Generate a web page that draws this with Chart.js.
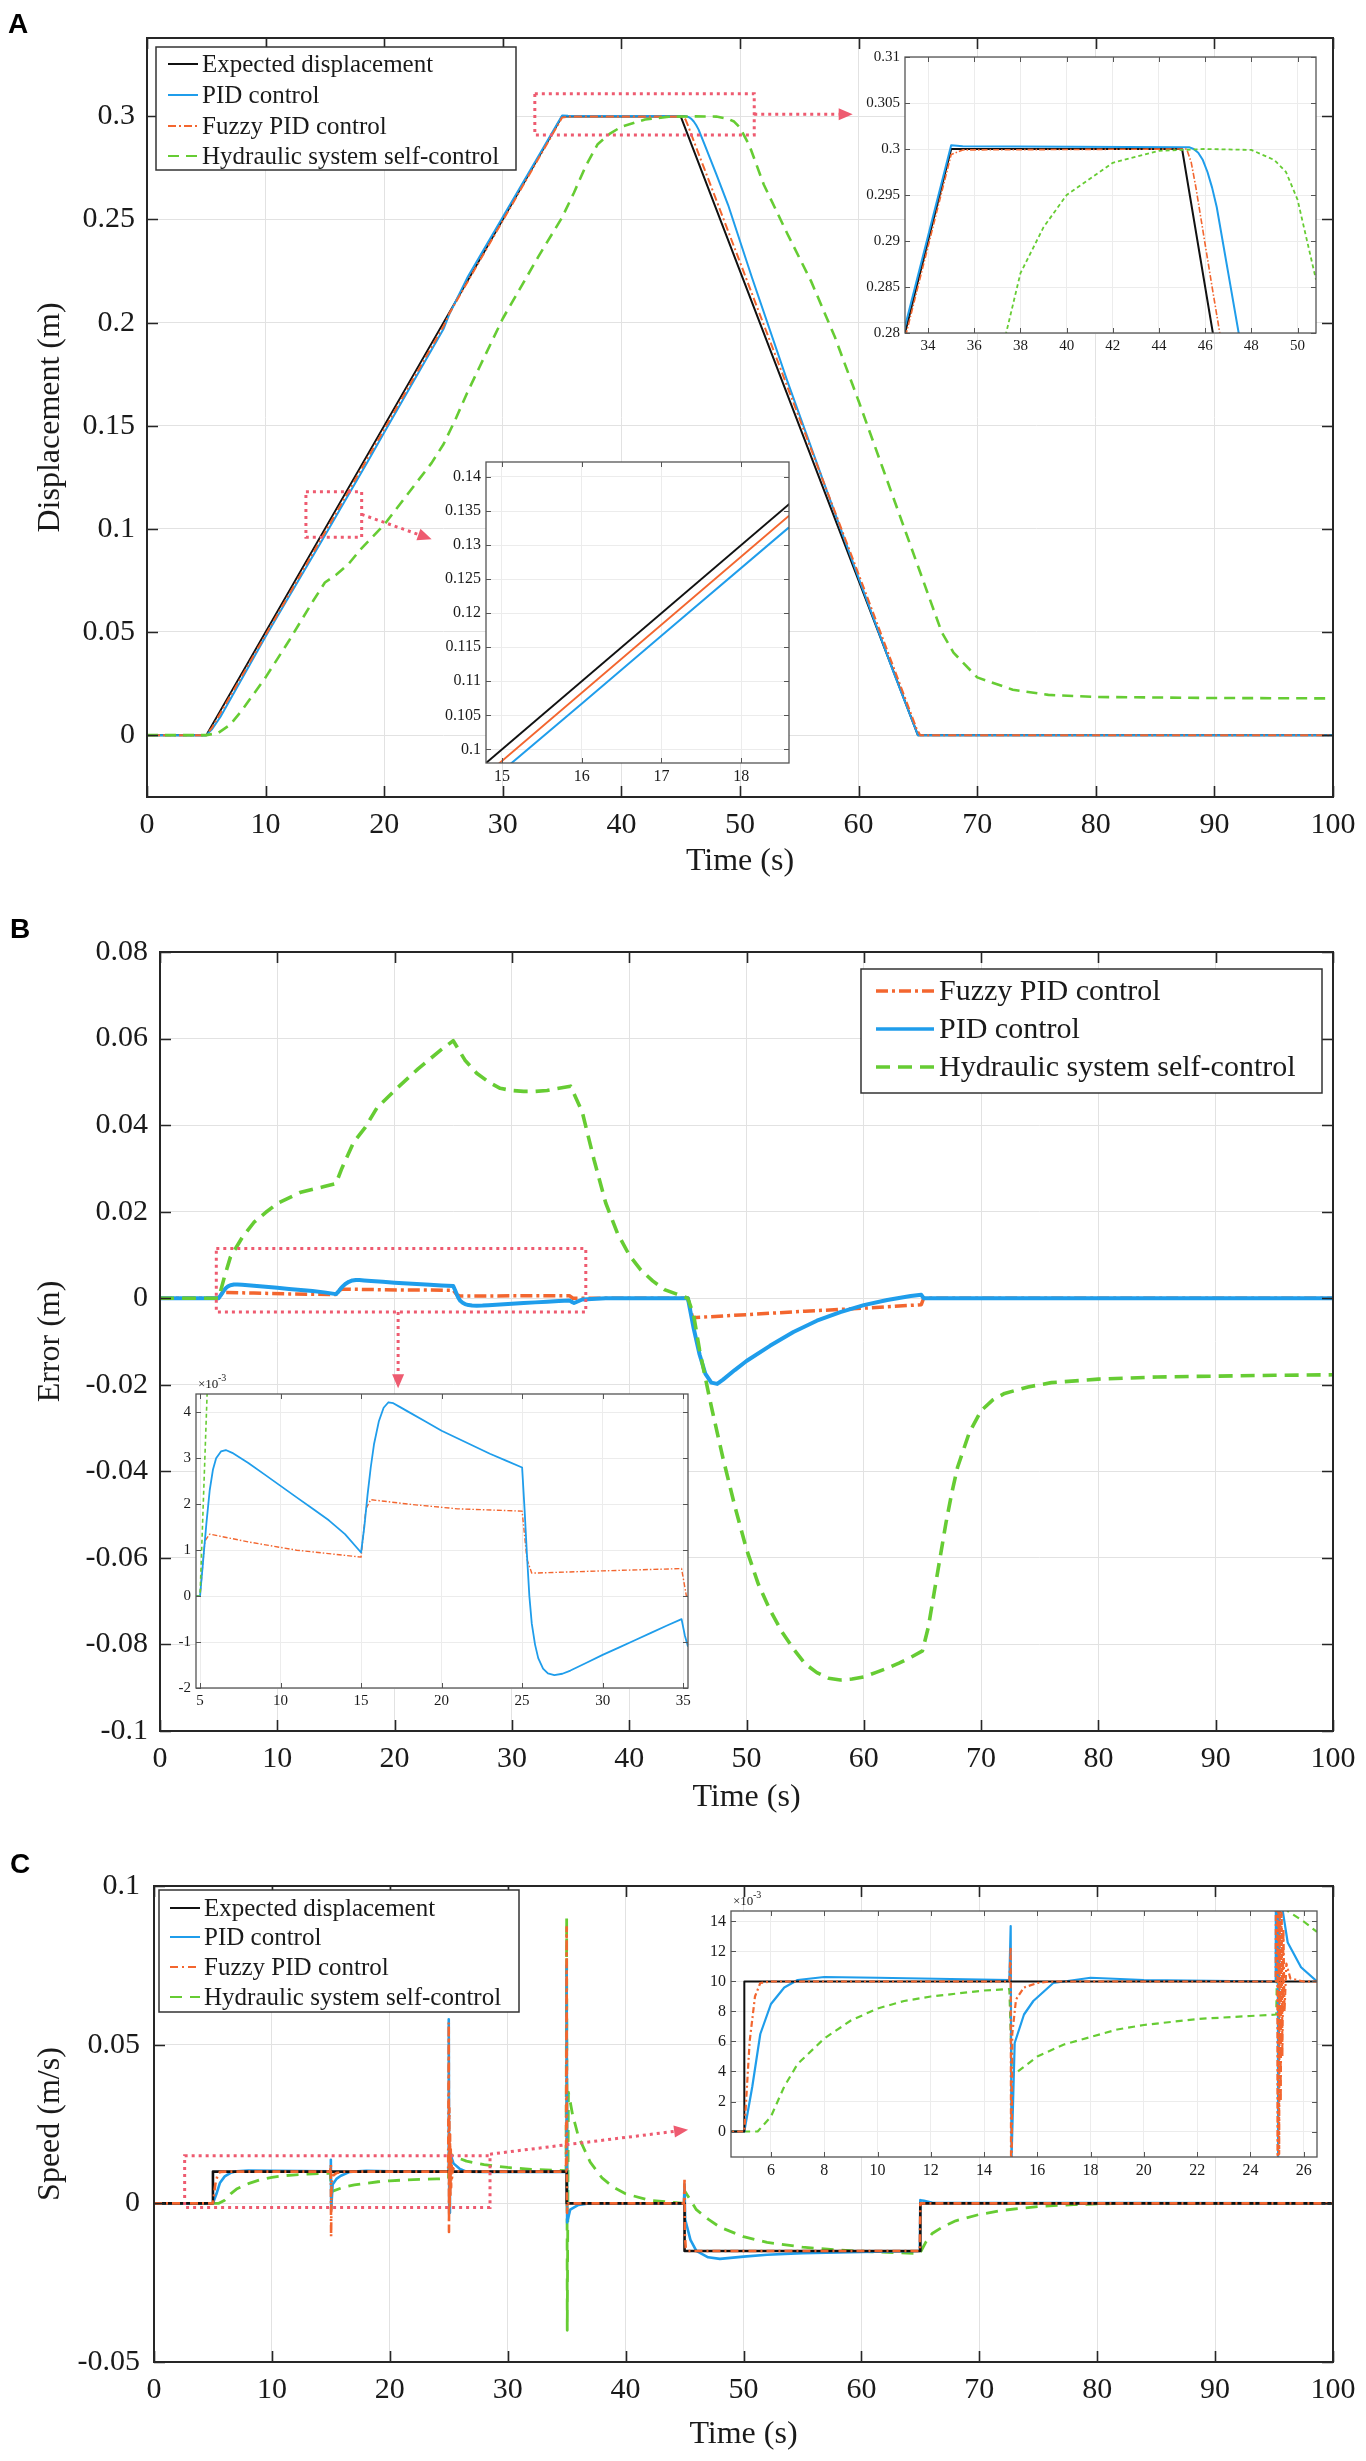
<!DOCTYPE html>
<html>
<head>
<meta charset="utf-8">
<script src="https://cdn.jsdelivr.net/npm/chart.js@4.4.1/dist/chart.umd.min.js"></script>
<style>
html,body{margin:0;padding:0;background:#fff;}
body{width:1366px;height:2461px;position:relative;overflow:hidden;}
canvas{position:absolute;display:block;}
</style>
</head>
<body>
<canvas id="cA" width="1366" height="900" style="left:0;top:0"></canvas>
<canvas id="cB" width="1366" height="920" style="left:0;top:900px"></canvas>
<canvas id="cC" width="1366" height="641" style="left:0;top:1820px"></canvas>
<canvas id="iA1" width="495" height="325" style="left:845px;top:40px"></canvas>
<canvas id="iA2" width="380" height="345" style="left:430px;top:445px"></canvas>
<canvas id="iB" width="545" height="350" style="left:165px;top:1368px"></canvas>
<canvas id="iC" width="650" height="297" style="left:690px;top:1888px"></canvas>
<script>
// ---------------- DATA ----------------
const seriesNames = ['Expected displacement', 'PID control', 'Fuzzy PID control', 'Hydraulic system self-control'];

// Panel A: displacement (m) vs time (s)
const tA_exp = [0, 5, 35, 45, 65, 100];
const yA_exp = [0, 0, 0.3, 0.3, 0, 0];
const tA_pid = [0, 5, 5.5, 6.2, 8, 10, 12, 15, 16, 17, 18.6, 20, 25, 25.5, 27, 30, 33, 35, 35.5, 45, 45.3, 45.5, 45.7, 45.9, 46.1, 46.3, 46.5, 47, 47.5, 48, 49, 51, 54, 57, 60, 63, 65, 100];
const yA_pid = [0, 0, 0.003, 0.0089, 0.0273, 0.0478, 0.0675, 0.0968, 0.1067, 0.1167, 0.1326, 0.1467, 0.1969, 0.2042, 0.2217, 0.2512, 0.2807, 0.3004, 0.3003, 0.3002, 0.3002, 0.3, 0.2996, 0.2988, 0.2975, 0.2958, 0.2937, 0.2865, 0.2793, 0.272, 0.257, 0.222, 0.1715, 0.1235, 0.0762, 0.0297, 0, 0];
const tA_fuz = [0, 5, 5.5, 15, 18.6, 25, 25.5, 35, 35.5, 45.2, 45.4, 45.6, 46.3, 47, 50, 55, 60, 64.9, 65.2, 100];
const yA_fuz = [0, 0, 0.0038, 0.0983, 0.1343, 0.1982, 0.2045, 0.2994, 0.2999, 0.3, 0.2985, 0.2958, 0.285, 0.2745, 0.2293, 0.1537, 0.0781, 0.003, 0, 0];
const tA_hyd = [0, 5, 6, 7, 8, 10, 12, 14, 15, 16, 17, 18, 20, 22, 24, 25, 26, 27, 28, 30, 33, 35, 36, 37, 38, 39, 40, 42, 44, 46, 48, 49, 49.5, 50, 50.8, 52, 54, 56, 58, 60, 62, 64, 65, 66, 67, 68, 70, 73, 76, 80, 90, 100];
const yA_hyd = [0, 0, 0.001, 0.005, 0.012, 0.028, 0.046, 0.065, 0.074, 0.078, 0.083, 0.09, 0.102, 0.117, 0.132, 0.141, 0.153, 0.166, 0.178, 0.202, 0.232, 0.251, 0.263, 0.276, 0.2865, 0.2915, 0.295, 0.2985, 0.2998, 0.3, 0.2999, 0.2988, 0.2975, 0.2945, 0.2858, 0.267, 0.243, 0.22, 0.193, 0.162, 0.13, 0.098, 0.082, 0.066, 0.05, 0.04, 0.028, 0.022, 0.0195, 0.0185, 0.018, 0.0178];

// Panel B: error (m) vs time (s)
const tB_fuz = [0, 5, 5.3, 5.6, 8, 11, 15, 15.3, 15.6, 18, 21, 25, 25.3, 25.6, 30, 34.9, 35.2, 45, 45.4, 50, 55, 60, 64.9, 65.1, 100];
const yB_fuz = [0, 0, 0.0012, 0.00135, 0.00118, 0.001, 0.00085, 0.0019, 0.0021, 0.002, 0.0019, 0.00185, 0.0008, 0.0005, 0.00055, 0.0006, 0, 0, -0.0045, -0.0038, -0.003, -0.0023, -0.0015, 0, 0];
const tB_pid = [0, 5, 5.2, 5.4, 5.6, 5.8, 6, 6.3, 6.6, 7, 8, 9, 10, 11, 12, 13, 14, 15, 15.2, 15.4, 15.6, 15.8, 16.1, 16.4, 16.7, 17, 17.4, 18, 19, 20, 21.5, 23, 24, 25, 25.15, 25.3, 25.45, 25.6, 25.8, 26, 26.3, 26.6, 27, 27.5, 28, 29, 30, 31, 32, 33, 34, 34.9, 35.1, 35.3, 36, 38, 45, 45.5, 46, 46.5, 47, 47.5, 48, 49, 50, 52, 54, 56, 58, 60, 62, 64, 64.9, 65.1, 100];
const yB_pid = [0, 0, 0.0008, 0.0016, 0.0023, 0.00275, 0.003, 0.00315, 0.00318, 0.00312, 0.0029, 0.00265, 0.0024, 0.00215, 0.0019, 0.00165, 0.00135, 0.00095, 0.0015, 0.0022, 0.0028, 0.0033, 0.0038, 0.0041, 0.00422, 0.0042, 0.00412, 0.004, 0.0038, 0.0036, 0.00335, 0.0031, 0.00295, 0.0028, 0.0019, 0.0009, 0, -0.0006, -0.00105, -0.00135, -0.00158, -0.00168, -0.00172, -0.00169, -0.00162, -0.00145, -0.00128, -0.00112, -0.00096, -0.0008, -0.00064, -0.0005, -0.00085, -0.0011, -0.0003, 0, 0, -0.007, -0.013, -0.0175, -0.0195, -0.0198, -0.0188, -0.0166, -0.0145, -0.011, -0.0078, -0.0052, -0.0032, -0.0016, -0.0004, 0.0005, 0.0008, 0, 0];
const tB_hyd = [0, 5, 5.5, 6, 7, 8, 9, 10, 12, 14, 15, 15.5, 16.5, 17.5, 18.5, 20, 22, 24, 25, 26, 27, 28, 29, 30, 31, 32, 33, 34, 35, 36, 37, 38, 39, 40, 41, 42, 43, 44, 45, 45.5, 46, 47, 48, 49, 50, 51, 52, 53, 54, 55, 56, 57, 58, 59, 60, 61, 62, 63, 64, 65, 65.5, 66, 66.5, 67, 67.5, 68, 69, 70, 71, 72, 74, 76, 80, 85, 90, 95, 100];
const yB_hyd = [0, 0, 0.005, 0.0095, 0.014, 0.0175, 0.0198, 0.0219, 0.0245, 0.0258, 0.0265, 0.03, 0.036, 0.0395, 0.044, 0.048, 0.053, 0.0575, 0.0595, 0.055, 0.052, 0.05, 0.0485, 0.048, 0.0478, 0.0478, 0.048, 0.0485, 0.049, 0.043, 0.032, 0.022, 0.015, 0.01, 0.0065, 0.004, 0.002, 0.001, 0, -0.004, -0.012, -0.025, -0.037, -0.048, -0.058, -0.066, -0.072, -0.077, -0.081, -0.0845, -0.0865, -0.0878, -0.0882, -0.088, -0.0875, -0.0865, -0.0855, -0.0843, -0.083, -0.0815, -0.076, -0.068, -0.06, -0.052, -0.045, -0.039, -0.031, -0.026, -0.0235, -0.022, -0.0205, -0.0195, -0.0187, -0.0182, -0.018, -0.0178, -0.0177];

// Panel C: speed (m/s) vs time (s)
const tC_exp = [0, 5, 5, 35, 35, 45, 45, 65, 65, 100];
const yC_exp = [0, 0, 0.01, 0.01, 0, 0, -0.015, -0.015, 0, 0];
const tC_pid = [0, 5, 5.3, 5.6, 6, 6.5, 7, 8, 10, 14.95, 15, 15.03, 15.15, 15.5, 15.85, 16.6, 18, 20, 24.95, 25, 25.04, 25.1, 25.4, 25.9, 26.5, 28, 34.95, 35, 35.04, 35.3, 36, 37, 44.95, 45, 45.05, 45.5, 46, 47, 48, 50, 52, 55, 60, 64.95, 65, 65.3, 66, 100];
const yC_pid = [0, 0, 0.003, 0.0065, 0.0085, 0.0096, 0.0101, 0.0103, 0.01025, 0.0101, 0.0137, -0.002, 0.0059, 0.0078, 0.0087, 0.0099, 0.01025, 0.0101, 0.01, 0.058, -0.003, 0.016, 0.0126, 0.01095, 0.01, 0.0099, 0.01, 0.075, -0.006, -0.002, -0.0005, 0, 0, 0.006, -0.005, -0.0115, -0.015, -0.017, -0.0175, -0.0168, -0.0162, -0.0157, -0.0153, -0.015, 0.001, 0.0008, 0.0002, 0];
const tC_fuz = [0, 5, 5.2, 5.4, 5.6, 6, 14.95, 15, 15.02, 15.06, 15.2, 15.5, 16, 16.5, 24.95, 25, 25.02, 25.05, 25.08, 25.11, 25.14, 25.17, 25.2, 25.24, 25.28, 25.35, 25.5, 26, 34.95, 35, 35.03, 35.08, 44.95, 45, 45.03, 45.1, 45.3, 64.95, 65, 65.05, 100];
const yC_fuz = [0, 0, 0.006, 0.009, 0.0099, 0.01, 0.01, 0.0123, -0.0105, 0.0065, 0.0088, 0.0096, 0.0099, 0.01, 0.01, 0.057, -0.009, 0.03, -0.0015, 0.022, 0.002, 0.017, 0.005, 0.0135, 0.008, 0.0112, 0.0102, 0.01, 0.01, 0.087, -0.003, 0, 0, 0.008, -0.01, -0.014, -0.015, -0.015, 0, 0, 0];
const tC_hyd = [0, 5, 5.5, 6, 6.5, 7, 8, 9, 10, 11, 12, 13, 14, 14.95, 15.05, 16, 17, 18, 19, 20, 22, 24, 24.97, 25.05, 25.4, 26, 26.5, 28, 30, 32, 34.95, 35, 35.05, 35.15, 35.5, 36, 37, 38, 39, 40, 42, 44.95, 45, 46, 47, 48, 50, 52, 55, 58, 61, 64.95, 65.5, 66, 67, 68, 70, 72, 75, 78, 82, 100];
const yC_hyd = [0, 0, 0, 0.001, 0.003, 0.0045, 0.0062, 0.0074, 0.0082, 0.0087, 0.009, 0.0092, 0.0094, 0.0095, 0.0037, 0.005, 0.0058, 0.0063, 0.0068, 0.0071, 0.0075, 0.0077, 0.0078, 0.016, 0.0147, 0.014, 0.0133, 0.0122, 0.0113, 0.0107, 0.0103, 0.09, -0.04, 0.035, 0.028, 0.021, 0.013, 0.008, 0.005, 0.003, 0.001, 0, 0.004, -0.002, -0.005, -0.0075, -0.0105, -0.0123, -0.0138, -0.0147, -0.0153, -0.0158, -0.012, -0.0095, -0.0072, -0.0055, -0.0035, -0.0022, -0.001, -0.0004, 0, 0];

// Tick values
const xTicksMain = [0, 10, 20, 30, 40, 50, 60, 70, 80, 90, 100];
const yTicksA = [0, 0.05, 0.1, 0.15, 0.2, 0.25, 0.3];
const yTicksB = [-0.1, -0.08, -0.06, -0.04, -0.02, 0, 0.02, 0.04, 0.06, 0.08];
const yTicksC = [-0.05, 0, 0.05, 0.1];
const xTicksA1 = [34, 36, 38, 40, 42, 44, 46, 48, 50];
const yTicksA1 = [0.28, 0.285, 0.29, 0.295, 0.3, 0.305, 0.31];
const xTicksA2 = [15, 16, 17, 18];
const yTicksA2 = [0.1, 0.105, 0.11, 0.115, 0.12, 0.125, 0.13, 0.135, 0.14];
const xTicksB1 = [5, 10, 15, 20, 25, 30, 35];
const yTicksB1 = [-0.002, -0.001, 0, 0.001, 0.002, 0.003, 0.004];
const xTicksC1 = [6, 8, 10, 12, 14, 16, 18, 20, 22, 24, 26];
const yTicksC1 = [0, 0.002, 0.004, 0.006, 0.008, 0.01, 0.012, 0.014];

// ---------------- STYLE ----------------
const SERIF = '"Liberation Serif", "Times New Roman", Times, serif';
const SANS = '"Liberation Sans", Arial, Helvetica, sans-serif';
const C_BLACK = '#111111', C_BLUE = '#1F9DEB', C_ORANGE = '#F3662F', C_GREEN = '#66CC33', C_RED = '#EE5B70';
const TXT = '#1a1a1a';

function xy(t, v) { return t.map((tt, i) => ({ x: tt, y: v[i] })); }
function line(label, t, v, color, width, dash, order) {
  return { label, data: xy(t, v), borderColor: color, backgroundColor: color, borderWidth: width,
    borderDash: dash || [], pointRadius: 0, pointHoverRadius: 0, showLine: true, tension: 0, fill: false,
    order, borderCapStyle: 'butt', borderJoinStyle: 'round' };
}
const fmt = v => String(Math.round(v * 1e6) / 1e6);
const fmtMilli = v => String(Math.round(v * 1e6) / 1e3);

// ---------------- PLUGINS ----------------
const whiteArea = {
  id: 'whiteArea',
  beforeDraw(chart, args, o) {
    if (!o || !o.on) return;
    const a = chart.chartArea, ctx = chart.ctx;
    ctx.save(); ctx.fillStyle = '#ffffff';
    ctx.fillRect(a.left, a.top, a.right - a.left, a.bottom - a.top);
    ctx.restore();
  }
};
const framePlugin = {
  id: 'frame',
  afterDatasetsDraw(chart, args, o) {
    const { ctx, chartArea: a } = chart; const x = chart.scales.x, y = chart.scales.y;
    ctx.save();
    ctx.strokeStyle = o.color; ctx.lineWidth = o.tw || 1.2; ctx.setLineDash([]);
    ctx.beginPath();
    x.ticks.forEach(t => { const p = Math.round(x.getPixelForValue(t.value)) + 0.5;
      ctx.moveTo(p, a.bottom); ctx.lineTo(p, a.bottom - o.len); ctx.moveTo(p, a.top); ctx.lineTo(p, a.top + o.len); });
    y.ticks.forEach(t => { const p = Math.round(y.getPixelForValue(t.value)) + 0.5;
      ctx.moveTo(a.left, p); ctx.lineTo(a.left + o.len, p); ctx.moveTo(a.right, p); ctx.lineTo(a.right - o.len, p); });
    ctx.stroke();
    ctx.lineWidth = o.width;
    ctx.strokeRect(a.left, a.top, a.right - a.left, a.bottom - a.top);
    ctx.restore();
  }
};
const marksPlugin = {
  id: 'zoomMarks',
  afterDatasetsDraw(chart, args, o) {
    if (!o || !o.boxes) return;
    const { ctx } = chart; const x = chart.scales.x, y = chart.scales.y;
    ctx.save();
    ctx.strokeStyle = C_RED; ctx.fillStyle = C_RED; ctx.lineWidth = 3; ctx.setLineDash([3, 4]);
    o.boxes.forEach(b => {
      const X0 = x.getPixelForValue(b[0]), X1 = x.getPixelForValue(b[1]);
      const Y0 = y.getPixelForValue(b[3]), Y1 = y.getPixelForValue(b[2]);
      ctx.strokeRect(X0, Y0, X1 - X0, Y1 - Y0);
    });
    (o.arrows || []).forEach(ar => {
      const X0 = x.getPixelForValue(ar[0]), Y0 = y.getPixelForValue(ar[1]);
      const X1 = x.getPixelForValue(ar[2]), Y1 = y.getPixelForValue(ar[3]);
      const ang = Math.atan2(Y1 - Y0, X1 - X0), hl = 14, hw = 6;
      const bx = X1 - hl * Math.cos(ang), by = Y1 - hl * Math.sin(ang);
      ctx.setLineDash([3, 4]);
      ctx.beginPath(); ctx.moveTo(X0, Y0); ctx.lineTo(bx, by); ctx.stroke();
      ctx.setLineDash([]);
      ctx.beginPath(); ctx.moveTo(X1, Y1);
      ctx.lineTo(bx + hw * Math.sin(ang), by - hw * Math.cos(ang));
      ctx.lineTo(bx - hw * Math.sin(ang), by + hw * Math.cos(ang));
      ctx.closePath(); ctx.fill();
    });
    ctx.restore();
  }
};
const legendPlugin = {
  id: 'boxLegend',
  afterDraw(chart, args, o) {
    if (!o || !o.items) return;
    const ctx = chart.ctx;
    ctx.save();
    ctx.fillStyle = '#ffffff'; ctx.fillRect(o.x0, o.y0, o.x1 - o.x0, o.y1 - o.y0);
    ctx.strokeStyle = '#333333'; ctx.lineWidth = 1.5; ctx.setLineDash([]);
    ctx.strokeRect(o.x0, o.y0, o.x1 - o.x0, o.y1 - o.y0);
    ctx.font = o.fs + 'px ' + SERIF; ctx.textBaseline = 'middle'; ctx.textAlign = 'left';
    o.items.forEach((idx, k) => {
      const d = chart.data.datasets[idx]; const yy = o.rows[k];
      ctx.strokeStyle = d.borderColor; ctx.lineWidth = o.lw || d.borderWidth; ctx.setLineDash(d.borderDash || []);
      ctx.beginPath(); ctx.moveTo(o.sx0, yy); ctx.lineTo(o.sx1, yy); ctx.stroke();
      ctx.setLineDash([]);
      ctx.fillStyle = TXT; ctx.fillText(d.label, o.tx, yy + 1);
    });
    ctx.restore();
  }
};
const textsPlugin = {
  id: 'texts',
  afterDraw(chart, args, o) {
    if (!o || !o.list) return;
    const ctx = chart.ctx;
    ctx.save();
    o.list.forEach(t => {
      ctx.font = t.font; ctx.fillStyle = t.color || TXT; ctx.textAlign = t.align || 'left'; ctx.textBaseline = t.baseline || 'alphabetic';
      ctx.fillText(t.text, t.x, t.y);
    });
    ctx.restore();
  }
};

// ---------------- CHART FACTORY ----------------
function makeChart(id, s) {
  const canvas = document.getElementById(id);
  const W = canvas.width, H = canvas.height;
  const tlh = s.titleFs * 1.2;
  const ticksCfg = (cb, fs, pad) => ({ autoSkip: false, maxRotation: 0, minRotation: 0, padding: pad, color: TXT,
    font: { family: SERIF, size: fs }, callback: cb });
  return new Chart(canvas, {
    type: 'scatter',
    data: { datasets: s.datasets },
    options: {
      responsive: false, maintainAspectRatio: false, animation: false, events: [],
      layout: { padding: { left: 0, top: s.area.t, right: W - s.area.r, bottom: 0 } },
      plugins: {
        legend: { display: false }, tooltip: { enabled: false },
        whiteArea: { on: !!s.white }, frame: s.frame, zoomMarks: s.marks || {},
        boxLegend: s.legend || {}, texts: { list: s.texts || [] }
      },
      scales: {
        x: {
          type: 'linear', position: 'bottom', min: s.x.min, max: s.x.max,
          afterBuildTicks: sc => { sc.ticks = s.x.ticks.map(v => ({ value: v })); },
          afterFit: sc => { sc.height = H - s.area.b; },
          grid: { color: s.grid, lineWidth: 1, drawTicks: false },
          border: { display: false },
          ticks: ticksCfg(s.x.cb || fmt, s.fs, s.x.pad),
          title: s.x.title ? { display: true, text: s.x.title, color: TXT, font: { family: SERIF, size: s.titleFs },
            padding: { top: 0, bottom: H - s.x.titleC - tlh / 2 } } : { display: false }
        },
        y: {
          type: 'linear', position: 'left', min: s.y.min, max: s.y.max,
          afterBuildTicks: sc => { sc.ticks = s.y.ticks.map(v => ({ value: v })); },
          afterFit: sc => { sc.width = s.area.l; },
          grid: { color: s.grid, lineWidth: 1, drawTicks: false },
          border: { display: false },
          ticks: ticksCfg(s.y.cb || fmt, s.fs, s.y.pad),
          title: s.y.title ? { display: true, text: s.y.title, color: TXT, font: { family: SERIF, size: s.titleFs },
            padding: { top: s.y.titleC - tlh / 2, bottom: 0 } } : { display: false }
        }
      }
    },
    plugins: [whiteArea, framePlugin, marksPlugin, legendPlugin, textsPlugin]
  });
}

// dataset builders (same data arrays, style per axes)
function setA(w) {
  return [
    line(seriesNames[0], tA_exp, yA_exp, C_BLACK, w.k, [], 3),
    line(seriesNames[1], tA_pid, yA_pid, C_BLUE, w.b, [], 2),
    line(seriesNames[2], tA_fuz, yA_fuz, C_ORANGE, w.o, w.od, 1),
    line(seriesNames[3], tA_hyd, yA_hyd, C_GREEN, w.g, w.gd, 0)
  ];
}
function setB(w) {
  return [
    line(seriesNames[2], tB_fuz, yB_fuz, C_ORANGE, w.o, w.od, 2),
    line(seriesNames[1], tB_pid, yB_pid, C_BLUE, w.b, [], 1),
    line(seriesNames[3], tB_hyd, yB_hyd, C_GREEN, w.g, w.gd, 0)
  ];
}
function setC(w) {
  return [
    line(seriesNames[0], tC_exp, yC_exp, C_BLACK, w.k, [], 1),
    line(seriesNames[1], tC_pid, yC_pid, C_BLUE, w.b, [], 2),
    line(seriesNames[2], tC_fuz, yC_fuz, C_ORANGE, w.o, w.od, 0),
    line(seriesNames[3], tC_hyd, yC_hyd, C_GREEN, w.g, w.gd, 3)
  ];
}

const GRID = '#e2e2e2', GRID_IN = '#ececec';
const MAINFRAME = { color: '#262626', width: 2, tw: 1.6, len: 11 };
const INFRAME = { color: '#555555', width: 1.3, tw: 1, len: 5 };
const LETTER = 'bold 28px ' + SANS;

// ---------------- PANEL A ----------------
makeChart('cA', {
  area: { l: 147, t: 38, r: 1333, b: 797 }, grid: GRID, fs: 30, titleFs: 32, frame: MAINFRAME,
  x: { min: 0, max: 100, ticks: xTicksMain, pad: 10, title: 'Time (s)', titleC: 862 },
  y: { min: -0.03, max: 0.338, ticks: yTicksA, pad: 12, title: 'Displacement (m)', titleC: 51 },
  datasets: setA({ k: 2, b: 2, o: 2, od: [8, 3, 2, 3], g: 2.6, gd: [11, 7] }),
  marks: { boxes: [[13.4, 18.1, 0.096, 0.118], [32.7, 51.2, 0.291, 0.311]],
           arrows: [[18.1, 0.107, 24.0, 0.095], [51.2, 0.301, 59.5, 0.301]] },
  legend: { items: [0, 1, 2, 3], x0: 156, y0: 47, x1: 516, y1: 170, rows: [64, 95, 126, 156], sx0: 168, sx1: 198, tx: 202, fs: 25, lw: 2 },
  texts: [{ text: 'A', x: 8, y: 33, font: LETTER, color: '#000' }]
});
makeChart('iA1', {
  white: true, area: { l: 60, t: 17, r: 471, b: 293 }, grid: GRID_IN, fs: 15, titleFs: 10, frame: INFRAME,
  x: { min: 33, max: 50.8, ticks: xTicksA1, pad: 4 },
  y: { min: 0.28, max: 0.31, ticks: yTicksA1, pad: 5 },
  datasets: setA({ k: 2, b: 2, o: 1.6, od: [6, 2, 1.5, 2], g: 1.8, gd: [4, 3] })
});
makeChart('iA2', {
  white: true, area: { l: 56, t: 17, r: 359, b: 318 }, grid: GRID_IN, fs: 16, titleFs: 10, frame: INFRAME,
  x: { min: 14.8, max: 18.6, ticks: xTicksA2, pad: 4 },
  y: { min: 0.098, max: 0.1422, ticks: yTicksA2, pad: 5 },
  datasets: setA({ k: 2, b: 2, o: 1.8, od: [], g: 1.8, gd: [4, 3] })
});

// ---------------- PANEL B ----------------
makeChart('cB', {
  area: { l: 160, t: 52, r: 1333, b: 831 }, grid: GRID, fs: 30, titleFs: 32, frame: MAINFRAME,
  x: { min: 0, max: 100, ticks: xTicksMain, pad: 10, title: 'Time (s)', titleC: 898 },
  y: { min: -0.1, max: 0.08, ticks: yTicksB, pad: 12, title: 'Error (m)', titleC: 51 },
  datasets: setB({ o: 3.5, od: [12, 4, 3, 4], b: 4, g: 3.6, gd: [14, 8] }),
  marks: { boxes: [[4.8, 36.3, -0.0032, 0.0115]], arrows: [[20.3, -0.0032, 20.3, -0.0208]] },
  legend: { items: [0, 1, 2], x0: 861, y0: 69, x1: 1322, y1: 193, rows: [91, 129, 167], sx0: 876, sx1: 934, tx: 939, fs: 30, lw: 3.5 },
  texts: [{ text: 'B', x: 10, y: 38, font: LETTER, color: '#000' }]
});
makeChart('iB', {
  white: true, area: { l: 31, t: 26, r: 523, b: 320 }, grid: GRID_IN, fs: 15, titleFs: 10, frame: INFRAME,
  x: { min: 4.75, max: 35.3, ticks: xTicksB1, pad: 4 },
  y: { min: -0.002, max: 0.0044, ticks: yTicksB1, pad: 5, cb: fmtMilli },
  datasets: setB({ o: 1.4, od: [5, 2, 1.5, 2], b: 1.8, g: 1.6, gd: [4, 3] }),
  texts: [{ text: '\u00d710', x: 33, y: 20, font: '13px ' + SERIF }, { text: '-3', x: 53, y: 13, font: '10px ' + SERIF }]
});

// ---------------- PANEL C ----------------
makeChart('cC', {
  area: { l: 154, t: 66, r: 1333, b: 542 }, grid: GRID, fs: 30, titleFs: 32, frame: MAINFRAME,
  x: { min: 0, max: 100, ticks: xTicksMain, pad: 10, title: 'Time (s)', titleC: 615 },
  y: { min: -0.05, max: 0.1, ticks: yTicksC, pad: 14, title: 'Speed (m/s)', titleC: 51 },
  datasets: setC({ k: 2.6, b: 2.6, o: 2.6, od: [8, 4, 2, 4], g: 2.8, gd: [12, 8] }),
  marks: { boxes: [[2.6, 28.5, -0.0013, 0.015]], arrows: [[28.5, 0.0155, 45.3, 0.0232]] },
  legend: { items: [0, 1, 2, 3], x0: 159, y0: 70, x1: 519, y1: 192, rows: [88, 117, 147, 177], sx0: 170, sx1: 200, tx: 204, fs: 25, lw: 2 },
  texts: [{ text: 'C', x: 10, y: 53, font: LETTER, color: '#000' }]
});
makeChart('iC', {
  white: true, area: { l: 41, t: 23, r: 627, b: 269 }, grid: GRID_IN, fs: 16, titleFs: 10, frame: INFRAME,
  x: { min: 4.5, max: 26.5, ticks: xTicksC1, pad: 4 },
  y: { min: -0.0017, max: 0.0147, ticks: yTicksC1, pad: 5, cb: fmtMilli },
  datasets: setC({ k: 2, b: 2.2, o: 2.2, od: [6, 3, 2, 3], g: 2.2, gd: [7, 5] }),
  texts: [{ text: '\u00d710', x: 43, y: 17, font: '13px ' + SERIF }, { text: '-3', x: 63, y: 10, font: '10px ' + SERIF }]
});
</script>
</body>
</html>
